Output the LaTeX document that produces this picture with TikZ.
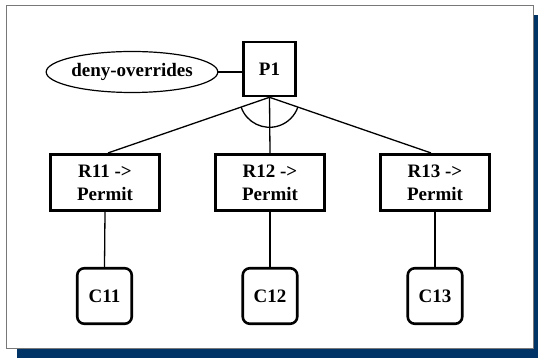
\documentclass[tikz,border=0pt]{standalone}
\usepackage{fontspec}
\setmainfont{Liberation Serif}
\usetikzlibrary{shapes.geometric}
\definecolor{shadowblue}{RGB}{0,51,102}
\definecolor{framegray}{RGB}{120,120,120}
\begin{document}
\begin{tikzpicture}[x=1pt,y=-1pt,
  every node/.style={font=\bfseries\fontsize{19}{23}\selectfont, align=center, inner sep=0pt},
  policy/.style={draw, line width=2.6pt, minimum width=52pt, minimum height=54pt},
  rulebox/.style={draw, line width=2.6pt, minimum width=109pt, minimum height=56.5pt},
  condbox/.style={draw, line width=2.6pt, rounded corners=7pt, minimum width=54.5pt, minimum height=55.5pt},
  algo/.style={draw, ellipse, line width=1.2pt, minimum width=164pt, minimum height=41pt},
  link/.style={line width=1.3pt}]
  \useasboundingbox (0,0) rectangle (538,358);
  % framed panel with drop shadow
  \fill[shadowblue] (17,15) rectangle (538,358);
  \draw[framegray, line width=0.8pt, fill=white] (6,5) rectangle (533,348);

  % nodes
  \node[policy] (P1) at (269.5,69) {P1};
  \node[algo] (ell) at (132,72) {deny-overrides};
  \node[rulebox] (R11) at (105,182.5) {R11 ->\\Permit};
  \node[rulebox] (R12) at (270,182.5) {R12 ->\\Permit};
  \node[rulebox] (R13) at (435,182.5) {R13 ->\\Permit};
  \node[condbox] (C11) at (104.5,296) {C11};
  \node[condbox] (C12) at (270,296) {C12};
  \node[condbox] (C13) at (435,296) {C13};

  % connectors
  \draw[link] (ell.east) -- (P1.west |- ell.east);
  \draw[link] (P1.south) -- ([xshift=3pt]R11.north);
  \draw[link] (P1.south) -- (R12.north);
  \draw[link] (P1.south) -- ([xshift=-4pt]R13.north);
  \draw[link] ([shift={(161:30)}]P1.south) arc[start angle=161, end angle=19, radius=30];
  \draw[link] (R11.south) -- (C11.north);
  \draw[link] (R12.south) -- (C12.north);
  \draw[link] (R13.south) -- (C13.north);
\end{tikzpicture}
\end{document}
